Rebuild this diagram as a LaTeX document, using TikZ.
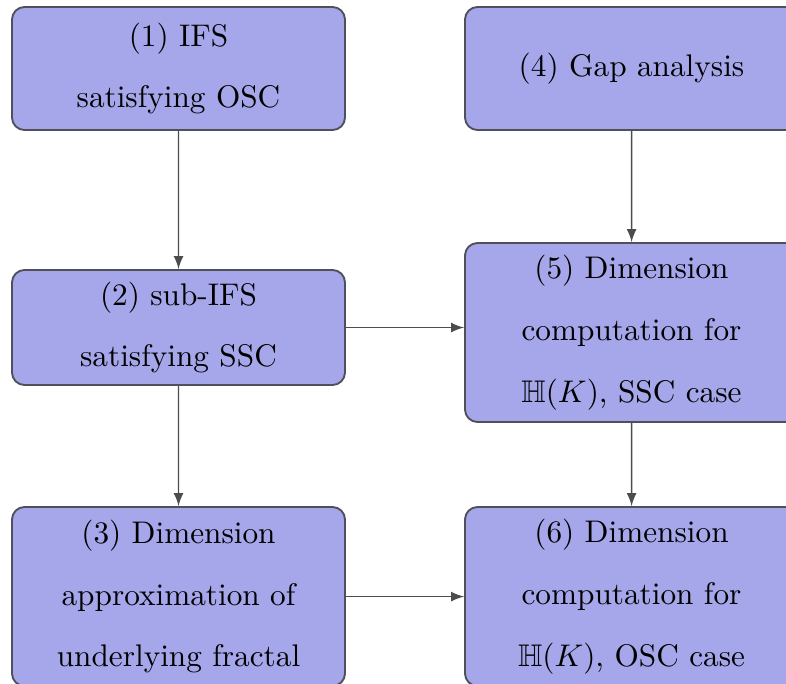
\documentclass[tikz,border=0pt]{standalone}
\usepackage{amssymb}
\usetikzlibrary{arrows}
\definecolor{boxfill}{RGB}{166,166,234}
\definecolor{boxline}{RGB}{80,80,90}
\begin{document}
\begin{tikzpicture}[scale=1.124,
  every node/.style={font=\fontsize{10}{19.8}\selectfont},
  stepbox/.style={rectangle,rounded corners=4pt,fill=boxfill,draw=boxline,line width=0.6pt,
    align=center,minimum width=3.743cm,inner sep=2pt},
  flow/.style={-latex,black!70,line width=0.45pt}]
  \useasboundingbox (0,0) rectangle (7.86,-6.84);
  % left column
  \node[stepbox,minimum height=1.383cm] (ifs) at (1.785,-0.685) {(1) IFS\\satisfying OSC};
  \node[stepbox,minimum height=1.293cm] (sub) at (1.785,-3.275) {(2) sub-IFS\\satisfying SSC};
  \node[stepbox,minimum height=2.012cm] (approx) at (1.785,-5.965) {(3) Dimension\\approximation of\\underlying fractal};
  % right column
  \node[stepbox,minimum height=1.383cm] (gap) at (6.315,-0.685) {(4) Gap analysis};
  \node[stepbox,minimum height=2.012cm] (ssc) at (6.315,-3.325) {(5) Dimension\\computation for\\$\mathbb{H}(K)$, SSC case};
  \node[stepbox,minimum height=2.012cm] (osc) at (6.315,-5.965) {(6) Dimension\\computation for\\$\mathbb{H}(K)$, OSC case};
  % connectors
  \draw[flow] (ifs) -- (sub);
  \draw[flow] (sub) -- (approx);
  \draw[flow] (gap) -- (ssc);
  \draw[flow] (ssc) -- (osc);
  \draw[flow] (sub.east) -- (sub.east -| ssc.west);
  \draw[flow] (approx.east |- osc.west) -- (osc.west);
\end{tikzpicture}
\end{document}
